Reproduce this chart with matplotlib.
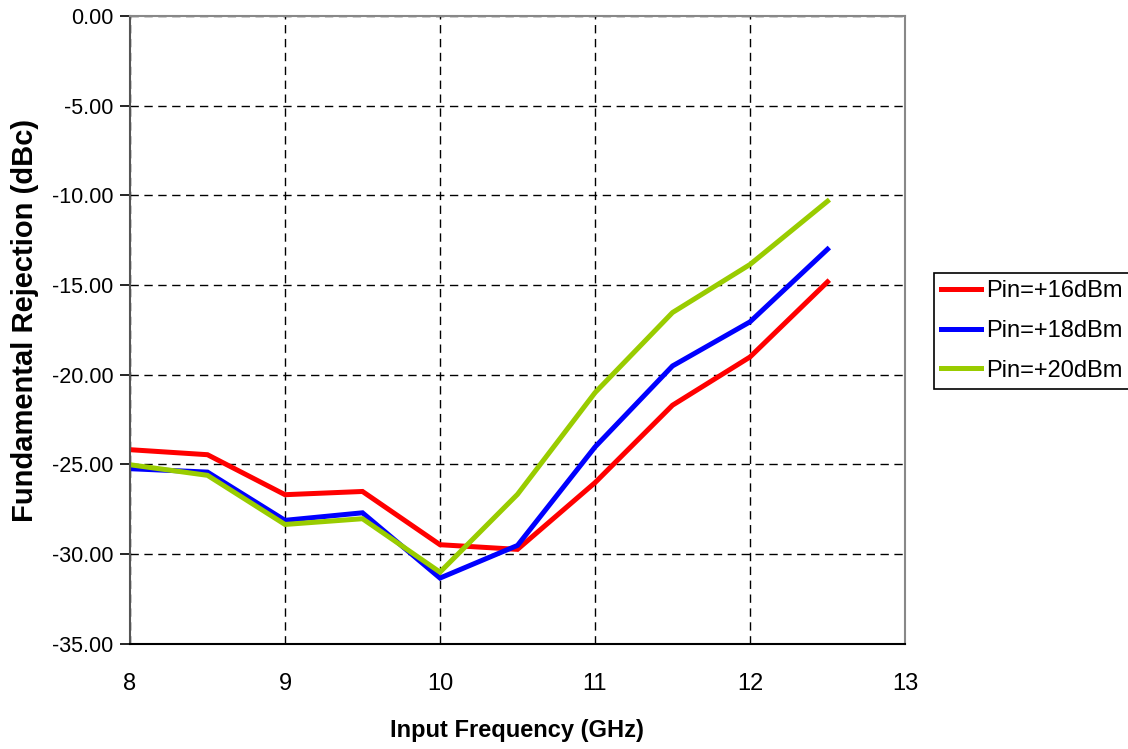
import matplotlib
matplotlib.use('Agg')
import matplotlib.pyplot as plt
import matplotlib.ticker as ticker

plt.rcParams['font.family'] = ['Liberation Sans', 'DejaVu Sans']

# data
freq = [8, 8.5, 9, 9.5, 10, 10.5, 11, 11.5, 12, 12.5]
pin16 = [-24.19, -24.47, -26.70, -26.52, -29.49, -29.75, -26.03, -21.71, -19.02, -14.83]
pin18 = [-25.25, -25.44, -28.13, -27.71, -31.35, -29.53, -24.04, -19.52, -17.06, -13.01]
pin20 = [-25.03, -25.62, -28.36, -28.04, -31.02, -26.68, -21.01, -16.54, -13.86, -10.33]
labels = ['Pin=+16dBm', 'Pin=+18dBm', 'Pin=+20dBm']
colors = ['#FF0000', '#0000FF', '#99CC00']

W, H = 1128, 749
fig = plt.figure(figsize=(W/100, H/100), dpi=100)
ax = fig.add_axes([130/W, 1-643.5/H, (905-130)/W, (643.5-16)/H])

for y, lab, c in zip([pin16, pin18, pin20], labels, colors):
    ax.plot(freq, y, color=c, lw=3.6, label=lab, solid_joinstyle='miter')

ax.set_xlim(8, 13)
ax.set_ylim(-35, 0)
ax.set_xticks(range(8, 14))
ax.set_yticks(range(-35, 1, 5))
ax.yaxis.set_major_formatter(ticker.FormatStrFormatter('%.2f'))

ax.grid(True, color='black', ls=(0, (6, 4)), lw=1.0)
ax.set_axisbelow(True)

ax.spines['left'].set_color('#555555')
ax.spines['bottom'].set_color('black')
ax.spines['top'].set_color('#888888')
ax.spines['right'].set_color('#888888')
for s in ax.spines.values():
    s.set_linewidth(1.5)

ax.tick_params(axis='y', direction='out', length=7, width=1.2, pad=5, labelsize=15.5)
ax.tick_params(axis='x', length=0, pad=21, labelsize=17)

fig.text(25/W, 1-320/H, 'Fundamental Rejection (dBc)', rotation=90,
         ha='center', va='center', fontsize=21, fontweight='bold')
fig.text(517/W, 1-731/H, 'Input Frequency (GHz)',
         ha='center', va='center', fontsize=17, fontweight='bold')

leg = fig.legend(loc='center left', bbox_to_anchor=(934/W, 1-331/H), fontsize=17,
                 frameon=True, fancybox=False, edgecolor='black', framealpha=1,
                 handlelength=1.7, handletextpad=0.2, labelspacing=0.75,
                 borderpad=0.3, borderaxespad=0)
leg.get_frame().set_linewidth(1.2)

fig.savefig('out.png', dpi=100)
